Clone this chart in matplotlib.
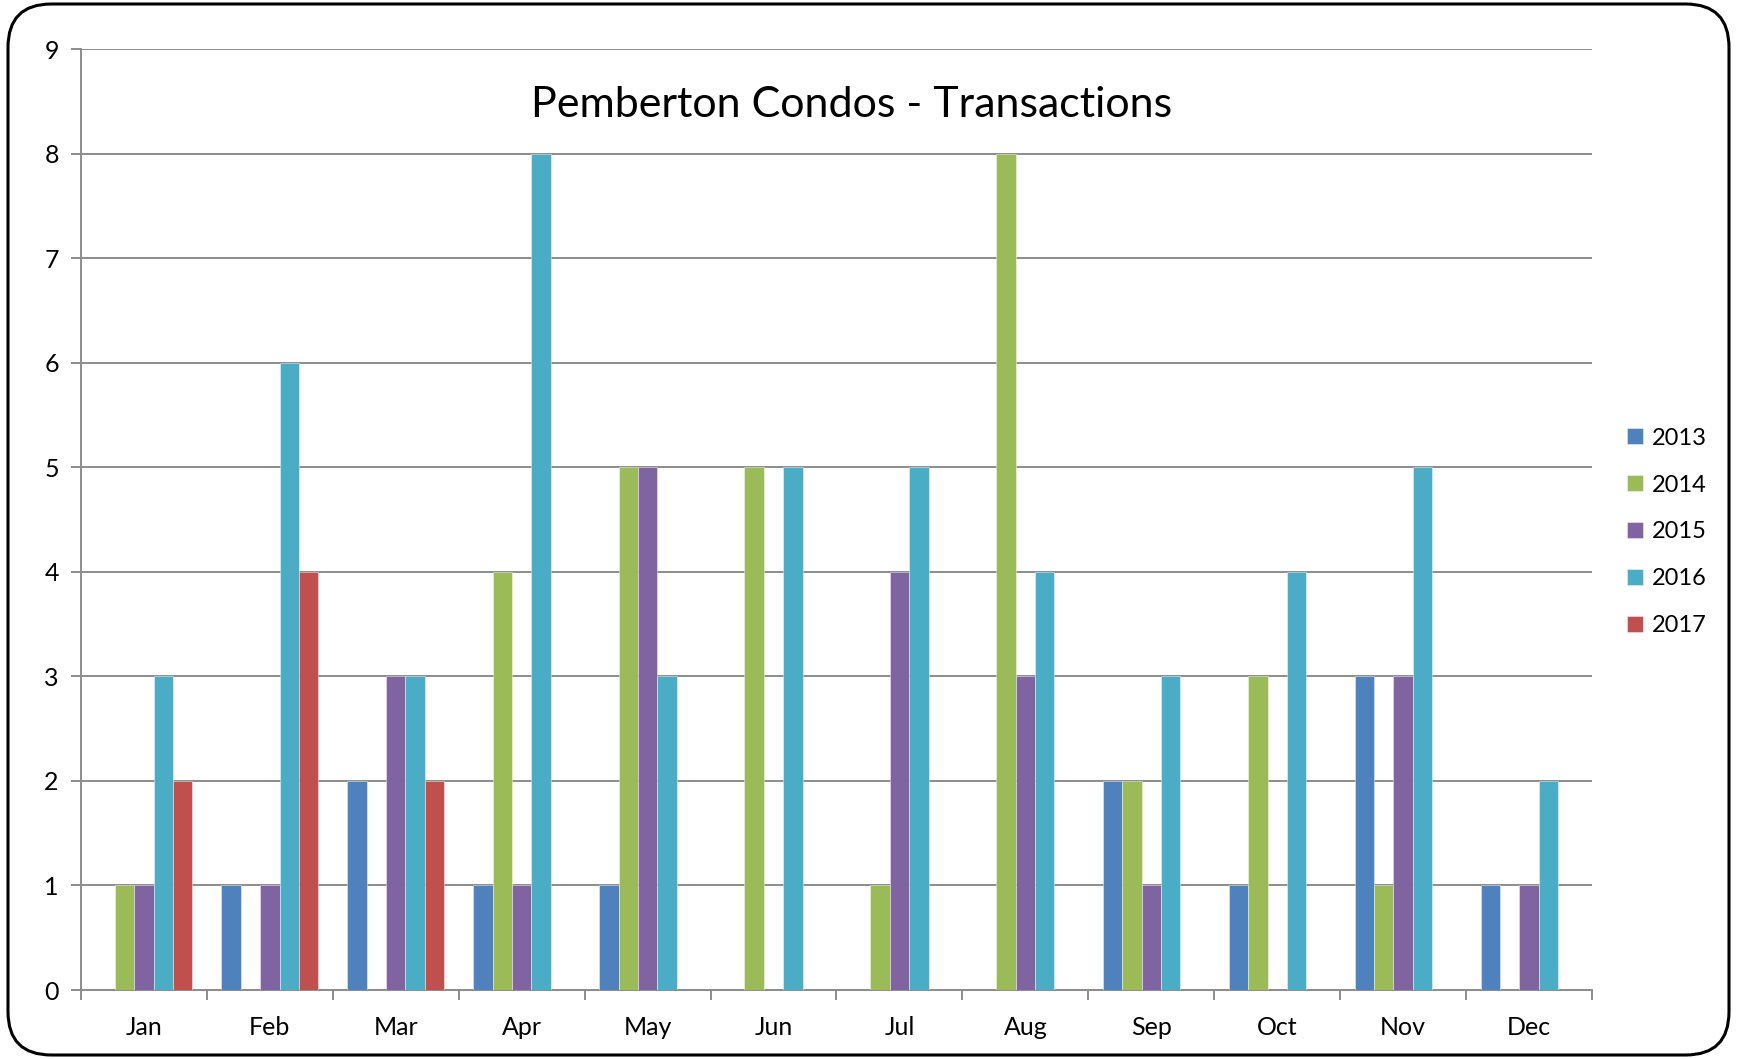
import matplotlib
matplotlib.use("Agg")
import matplotlib.pyplot as plt
import numpy as np
from matplotlib.patches import FancyBboxPatch

months = ["Jan", "Feb", "Mar", "Apr", "May", "Jun", "Jul", "Aug", "Sep", "Oct", "Nov", "Dec"]
years = ["2013", "2014", "2015", "2016", "2017"]
v2013 = [0, 1, 2, 1, 1, 0, 0, 0, 2, 1, 3, 1]
v2014 = [1, 0, 0, 4, 5, 5, 1, 8, 2, 3, 1, 0]
v2015 = [1, 1, 3, 1, 5, 0, 4, 3, 1, 0, 3, 1]
v2016 = [3, 6, 3, 8, 3, 5, 5, 4, 3, 4, 5, 2]
v2017 = [2, 4, 2, 0, 0, 0, 0, 0, 0, 0, 0, 0]
series = [v2013, v2014, v2015, v2016, v2017]
colors = ["#4F81BD", "#9BBB59", "#8064A2", "#4BACC6", "#C0504D"]

plt.rcParams['font.family'] = ['Lato', 'DejaVu Sans']

fig = plt.figure(figsize=(17.37, 10.59), dpi=100)
W, H = 1737, 1059
ax = fig.add_axes([81 / W, 1 - 990 / H, (1592 - 81) / W, (990 - 49) / H])

# rounded border
border = FancyBboxPatch((8 / W, 4 / H), (1729 - 8) / W, (1055 - 4) / H,
                        boxstyle="round,pad=0,rounding_size=0.025",
                        transform=fig.transFigure, fill=False, edgecolor="black",
                        linewidth=2.2, mutation_aspect=W / H, zorder=10)
fig.patches.append(border)

x = np.arange(len(months))
w = 1 / 6.5
for i, (vals, c, yr) in enumerate(zip(series, colors, years)):
    offs = (i - 2) * w
    ax.bar(x + offs, vals, width=w, color=c, edgecolor=(1, 1, 1, 0.6), linewidth=0.5,
           label=yr, zorder=3)

ax.set_xlim(-0.5, len(months) - 0.5)
ax.set_ylim(0, 9)
ax.set_yticks(range(0, 10))
ax.yaxis.grid(True, color="#8c8c8c", linewidth=1.4, zorder=0)
ax.set_axisbelow(True)

ax.set_xticks(np.arange(-0.5, len(months)), minor=False)
ax.set_xticklabels([])
ax.set_xticks(x, minor=True)
ax.set_xticklabels(months, minor=True, fontsize=18)
ax.tick_params(axis='x', which='major', length=7, width=1.4, color="#8c8c8c", direction='out')
ax.tick_params(axis='x', which='minor', length=0, pad=19)
ax.tick_params(axis='y', length=7, width=1.4, color="#8c8c8c", labelsize=18, pad=9)

for s in ["top", "right"]:
    ax.spines[s].set_visible(False)
for s in ["left", "bottom"]:
    ax.spines[s].set_color("#8c8c8c")
    ax.spines[s].set_linewidth(1.4)

fig.text(852 / W, 1 - 105 / H, "Pemberton Condos - Transactions", ha="center", va="center",
         fontsize=31)

leg = fig.legend(loc="center left", bbox_to_anchor=(1606 / W, 1 - 532 / H), frameon=False,
                 fontsize=17, handlelength=0.65, handleheight=0.65, handletextpad=0.4,
                 labelspacing=1.1)

fig.savefig("out.png", dpi=100)
